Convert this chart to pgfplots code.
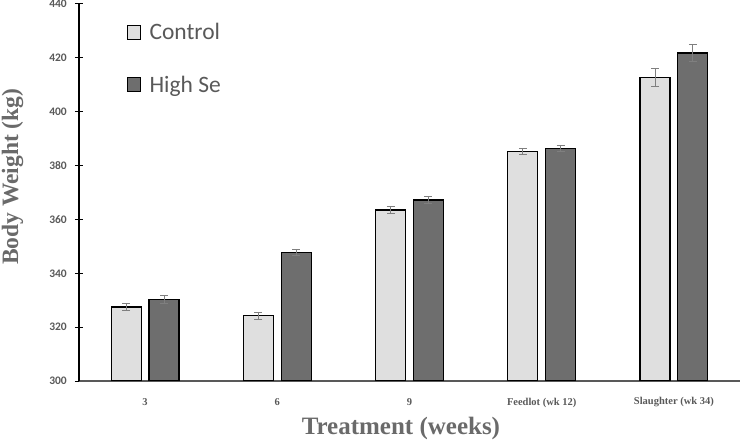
\documentclass[border=0pt]{standalone}
\usepackage{pgfplots}
\pgfplotsset{compat=1.18}
\usepackage{fontspec}
\setmainfont{Liberation Serif}
\newfontfamily\calib{Carlito}
\definecolor{txtgray}{HTML}{595959}
\definecolor{lblgray}{HTML}{6A6A6A}
\definecolor{ctrlfill}{HTML}{DFDFDF}
\definecolor{hifill}{HTML}{6E6E6E}
\definecolor{errgray}{HTML}{7F7F7F}
\pgfplotstableread{
x y e
0 327.5 1.4
1 324.2 1.4
2 363.5 1.3
3 385.3 1.1
4 412.6 3.4
}\control
\pgfplotstableread{
x y e
0 330.2 1.5
1 347.7 1.2
2 367.2 1.3
3 386.4 1.0
4 421.8 3.3
}\highse
\begin{document}
\begin{tikzpicture}
\useasboundingbox (0,0) rectangle (740bp,441bp);
\begin{axis}[
  at={(79bp,60bp)}, anchor=south west,
  scale only axis, width=661bp, height=377bp,
  xmin=-0.5, xmax=4.5, ymin=300, ymax=440,
  ytick={300,320,...,440},
  xtick={0,1,2,3,4},
  xticklabels={3,6,9,Feedlot (wk 12),Slaughter (wk 34)},
  axis x line*=bottom, axis y line*=left,
  x axis line style={draw=txtgray, line width=1.1pt, -},
  y axis line style={draw=black, line width=1.1pt, -},
  x tick style={draw=none},
  y tick style={draw=black, line width=1pt},
  tick align=center, major tick length=8bp,
  xticklabel style={font=\fontsize{10.5bp}{12bp}\selectfont\bfseries, text=txtgray, anchor=center, yshift=-13.5bp},
  yticklabel style={font=\calib\fontsize{11.5bp}{13bp}\selectfont\bfseries, text=txtgray, anchor=east, inner sep=0pt, xshift=-8bp},
  /pgf/number format/assume math mode=true,
  xlabel={Treatment (weeks)},
  ylabel={Body Weight (kg)},
  xlabel style={font=\fontsize{25bp}{28bp}\selectfont\bfseries, text=lblgray, at={(axis description cs:0.487,-0.125)}, anchor=center},
  ylabel style={font=\fontsize{23.5bp}{26bp}\selectfont\bfseries, text=lblgray, at={(axis description cs:-0.1006,0.542)}, anchor=center},
  ybar, bar width=30bp,
  legend style={at={(axis description cs:0.0726,0.955)}, anchor=north west, draw=none, fill=none,
    font=\calib\fontsize{23.5bp}{27bp}\selectfont, text=txtgray, row sep=31bp, column sep=7bp, inner sep=0pt,
    legend cell align=left},
  legend image code/.code={\draw[#1, line width=0.9pt] (0bp,-7bp) rectangle (12.5bp,7bp);},
  error bars/error bar style={draw=errgray, line width=1pt},
  error bars/error mark options={draw=errgray, line width=1pt, rotate=90, mark size=4bp},
]
\addplot[fill=ctrlfill, draw=black, line width=1.2pt, bar shift=-18.9bp,
  error bars/.cd, y dir=both, y explicit]
  table[x=x, y=y, y error=e] {\control};
\addlegendentry{Control}
\addplot[fill=hifill, draw=black, line width=1.2pt, bar shift=18.9bp,
  error bars/.cd, y dir=both, y explicit]
  table[x=x, y=y, y error=e] {\highse};
\addlegendentry{High Se}
\end{axis}
\end{tikzpicture}
\end{document}
